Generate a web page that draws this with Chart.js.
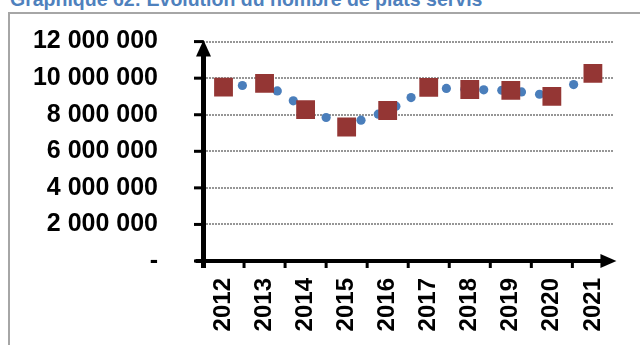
<!DOCTYPE html>
<html>
<head>
<meta charset="utf-8">
<script src="https://cdn.jsdelivr.net/npm/chart.js@4/dist/chart.umd.min.js"></script>
<style>
  html, body { margin: 0; padding: 0; background: #fff; }
  #wrap { position: relative; width: 640px; height: 345px; overflow: hidden; }
  #frame { position: absolute; left: 8px; top: 12px; width: 700px; height: 400px;
           border-left: 2px solid #a6a6a6; border-top: 2px solid #a6a6a6; }
  #title { position: absolute; left: 10px; top: -12px; margin: 0; white-space: nowrap;
           font: bold 19.5px "Liberation Sans", Arial, sans-serif; color: #4f81bd; }
  #chart { position: absolute; left: 0; top: 0; }
</style>
</head>
<body>
<div id="wrap">
  <div id="frame"></div>
  <p id="title">Graphique 62: Évolution du nombre de plats servis</p>
  <canvas id="chart" width="640" height="345"></canvas>
</div>
<script>
// Annual totals (squares), one per year
const years = ['2012', '2013', '2014', '2015', '2016', '2017', '2018', '2019', '2020', '2021'];
const annualMeals = [9510000, 9710000, 8280000, 7330000, 8230000, 9500000, 9380000, 9330000, 9000000, 10260000];

// Intermediate readings (dots), placed on a decimal-year scale
const readingDates = [2012.96, 2013.81, 2014.2, 2015.0, 2015.85, 2016.27, 2016.7, 2017.07,
                      2017.93, 2018.38, 2018.84, 2019.28, 2019.76, 2020.2, 2021.03];
const readingMeals = [9600000, 9300000, 8760000, 7850000, 7700000, 8030000, 8470000, 8940000,
                      9440000, 9400000, 9360000, 9340000, 9250000, 9120000, 9650000];

const yTicks = [0, 2000000, 4000000, 6000000, 8000000, 10000000, 12000000];

function spaced(v) {
  return v === 0 ? '-' : String(v).replace(/\B(?=(\d{3})+(?!\d))/g, ' ');
}

// Thick black axes with arrow heads and tick marks
const axesPlugin = {
  id: 'arrowAxes',
  afterDatasetsDraw(chart) {
    const { ctx, chartArea: a, scales } = chart;
    const y = scales.y;
    const x0 = a.left + 0.5, y0 = y.getPixelForValue(0);
    const yTop = y.getPixelForValue(12000000);
    ctx.save();
    ctx.fillStyle = '#000';
    ctx.strokeStyle = '#000';
    ctx.lineCap = 'butt';
    // vertical axis
    ctx.lineWidth = 5;
    ctx.beginPath();
    ctx.moveTo(x0, y0 + 7);
    ctx.lineTo(x0, yTop + 14);
    ctx.stroke();
    ctx.beginPath();
    ctx.moveTo(x0, yTop - 1.5);
    ctx.lineTo(x0 - 7.5, yTop + 15);
    ctx.lineTo(x0 + 7.5, yTop + 15);
    ctx.closePath();
    ctx.fill();
    // y tick marks
    ctx.lineWidth = 3;
    yTicks.forEach(v => {
      const py = y.getPixelForValue(v);
      ctx.beginPath();
      ctx.moveTo(x0 - 9.5, py);
      ctx.lineTo(x0, py);
      ctx.stroke();
    });
    // horizontal axis
    const xEnd = a.right + 3;
    ctx.lineWidth = 4;
    ctx.beginPath();
    ctx.moveTo(x0 - 8, y0);
    ctx.lineTo(xEnd - 14, y0);
    ctx.stroke();
    ctx.beginPath();
    ctx.moveTo(xEnd, y0);
    ctx.lineTo(xEnd - 16, y0 - 7);
    ctx.lineTo(xEnd - 16, y0 + 7);
    ctx.closePath();
    ctx.fill();
    // x tick marks at category boundaries
    ctx.lineWidth = 3;
    const step = (a.right - a.left) / years.length;
    for (let k = 1; k < years.length; k++) {
      const px = a.left + step * k;
      ctx.beginPath();
      ctx.moveTo(px, y0);
      ctx.lineTo(px, y0 + 7);
      ctx.stroke();
    }
    ctx.restore();
  }
};

new Chart(document.getElementById('chart'), {
  data: {
    labels: years,
    datasets: [
      {
        type: 'line',
        label: 'Total annuel',
        data: annualMeals,
        xAxisID: 'x',
        showLine: false,
        pointStyle: 'rect',
        pointRadius: 13.3,
        pointHoverRadius: 13.3,
        pointBackgroundColor: '#943634',
        pointBorderColor: '#943634',
        pointBorderWidth: 0,
        order: 0
      },
      {
        type: 'scatter',
        label: 'Relevés',
        data: readingDates.map((d, i) => ({ x: d, y: readingMeals[i] })),
        xAxisID: 'x2',
        pointStyle: 'circle',
        pointRadius: 4.6,
        pointHoverRadius: 4.6,
        pointBackgroundColor: '#4a7ebb',
        pointBorderWidth: 0,
        order: 1
      }
    ]
  },
  options: {
    responsive: false,
    animation: false,
    devicePixelRatio: 1,
    layout: { padding: { top: 41.6, right: 26, left: 0, bottom: 0 } },
    plugins: { legend: { display: false }, tooltip: { enabled: false } },
    scales: {
      x: {
        type: 'category',
        offset: true,
        grid: { display: false, drawTicks: false },
        border: { display: false },
        ticks: {
          maxRotation: 90, minRotation: 90, padding: 17, autoSkip: false,
          color: '#000',
          font: { family: '"Liberation Sans", Arial, sans-serif', size: 24, weight: 'bold' }
        },
        afterFit(s) { s.height = 84; }
      },
      x2: {
        type: 'linear',
        display: false,
        min: 2012,
        max: 2022
      },
      y: {
        min: 0,
        max: 12000000,
        afterBuildTicks(s) { s.ticks = yTicks.map(v => ({ value: v })); },
        grid: {
          drawTicks: false,
          lineWidth: 2,
          color: c => (c.tick && c.tick.value === 0) ? 'rgba(0,0,0,0)' : '#969696'
        },
        border: { display: false, dash: [2, 1] },
        ticks: {
          padding: 45,
          color: '#000',
          font: { family: '"Liberation Sans", Arial, sans-serif', size: 25, weight: 'bold' },
          callback: v => spaced(v)
        },
        afterFit(s) { s.width = 203; s.paddingTop = 0; s.paddingBottom = 0; }
      }
    }
  },
  plugins: [axesPlugin]
});
</script>
</body>
</html>
